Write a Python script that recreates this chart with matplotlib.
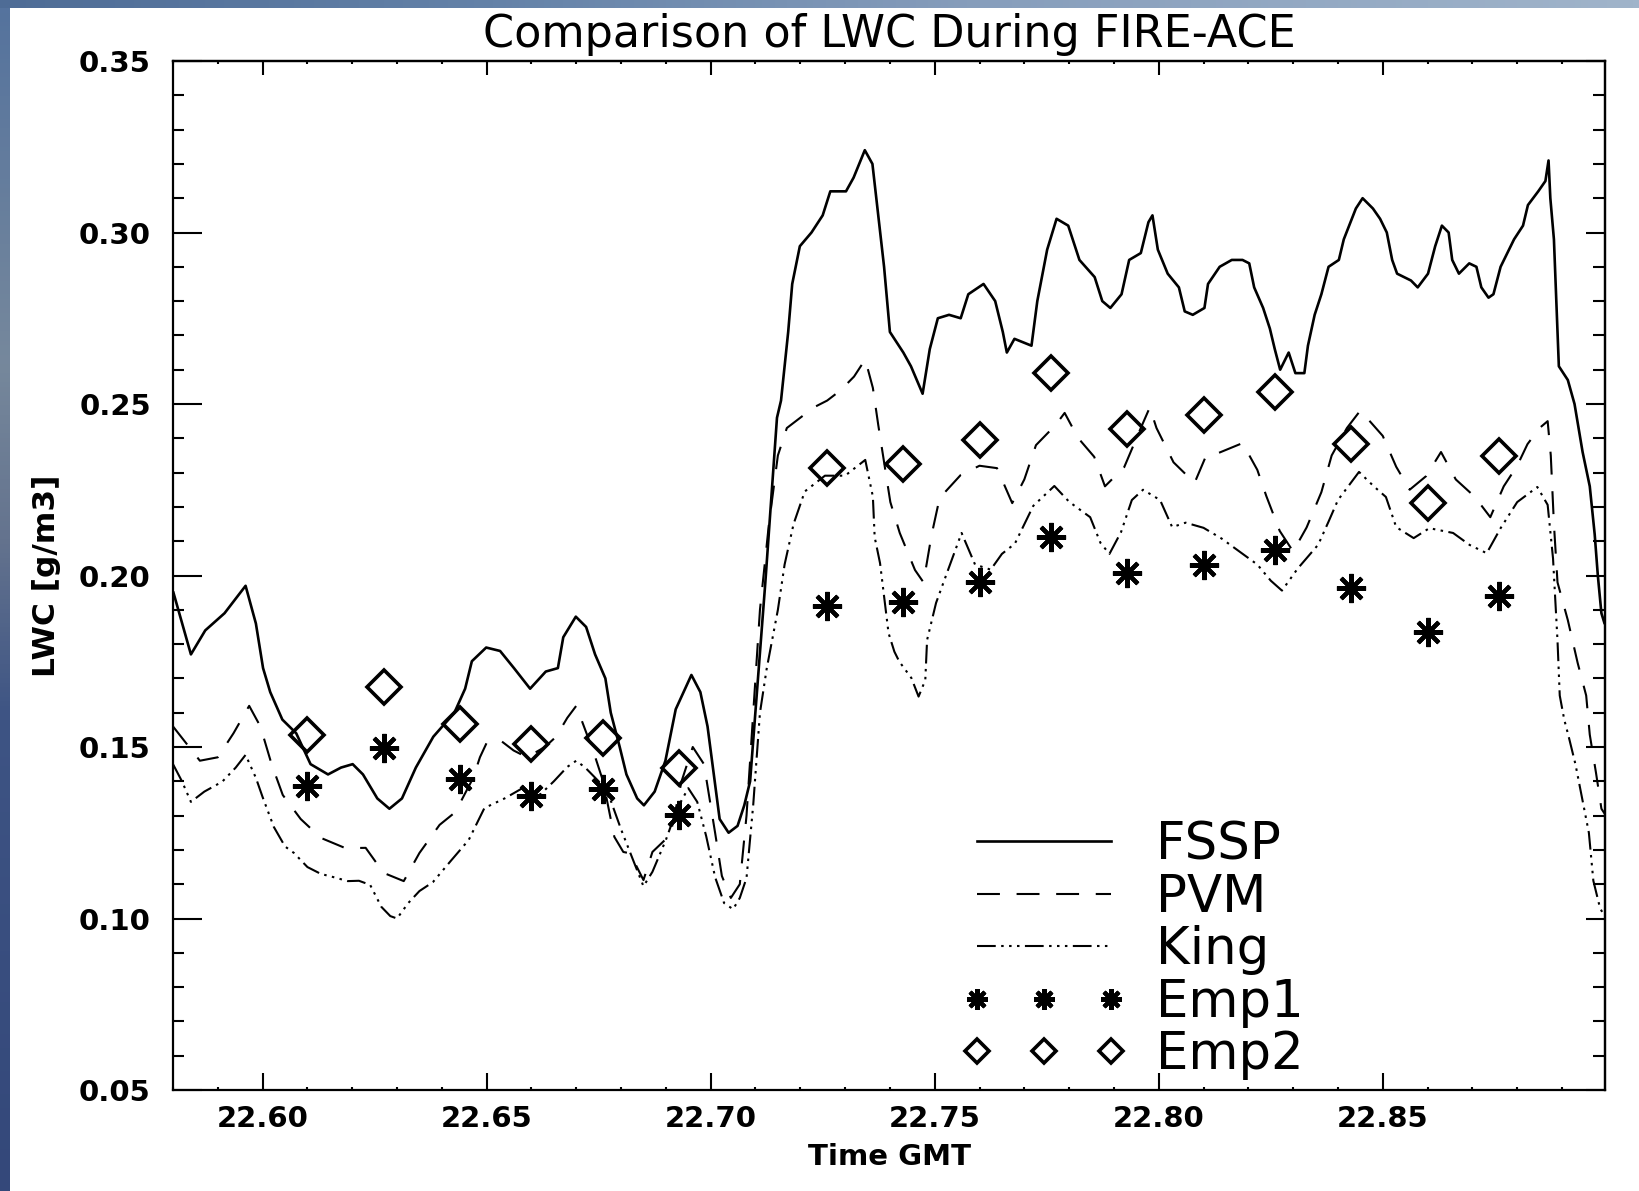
import numpy as np
import matplotlib
matplotlib.use("Agg")
import matplotlib.pyplot as plt
from matplotlib.ticker import MultipleLocator

# ---------------- data ----------------
fssp_t = [22.5801, 22.5840, 22.5872, 22.5915, 22.5962, 22.5985, 22.6001, 22.6017, 22.6044, 22.6075,
          22.6107, 22.6146, 22.6175, 22.6201, 22.6224, 22.6256, 22.6283, 22.6311, 22.6342, 22.6381,
          22.6428, 22.6452, 22.6467, 22.6499, 22.6530, 22.6561, 22.6597, 22.6632, 22.6659, 22.6671,
          22.6699, 22.6722, 22.6742, 22.6765, 22.6777, 22.6797, 22.6812, 22.6836, 22.6851, 22.6875,
          22.6899, 22.6922, 22.6957, 22.6977, 22.6993, 22.7008, 22.7020, 22.7040, 22.7060, 22.7075,
          22.7088, 22.7105, 22.7122, 22.7135, 22.7148, 22.7157, 22.7173, 22.7182, 22.7199, 22.7225,
          22.7250, 22.7267, 22.7302, 22.7319, 22.7344, 22.7361, 22.7374, 22.7387, 22.7400, 22.7430,
          22.7447, 22.7473, 22.7489, 22.7507, 22.7532, 22.7558, 22.7575, 22.7609, 22.7635, 22.7652,
          22.7661, 22.7678, 22.7716, 22.7729, 22.7751, 22.7772, 22.7798, 22.7823, 22.7857, 22.7874,
          22.7892, 22.7917, 22.7934, 22.7960, 22.7977, 22.7986, 22.7998, 22.8020, 22.8045, 22.8058,
          22.8076, 22.8102, 22.8110, 22.8136, 22.8163, 22.8187, 22.8202, 22.8213, 22.8233, 22.8248,
          22.8259, 22.8271, 22.8290, 22.8305, 22.8325, 22.8333, 22.8348, 22.8363, 22.8379, 22.8402,
          22.8413, 22.8425, 22.8440, 22.8455, 22.8478, 22.8494, 22.8509, 22.8521, 22.8532, 22.8563,
          22.8578, 22.8601, 22.8617, 22.8632, 22.8647, 22.8655, 22.8670, 22.8693, 22.8709, 22.8720,
          22.8736, 22.8747, 22.8763, 22.8793, 22.8813, 22.8824, 22.8847, 22.8863, 22.8870, 22.8874,
          22.8882, 22.8893, 22.8913, 22.8928, 22.8946, 22.8962, 22.8973, 22.8980, 22.8988, 22.8995,
          22.8999]
fssp_v = [0.195, 0.177, 0.184, 0.189, 0.197, 0.186, 0.173, 0.166, 0.158, 0.154,
          0.145, 0.142, 0.144, 0.145, 0.142, 0.135, 0.132, 0.135, 0.144, 0.153,
          0.160, 0.167, 0.175, 0.179, 0.178, 0.173, 0.167, 0.172, 0.173, 0.182,
          0.188, 0.185, 0.177, 0.170, 0.160, 0.150, 0.142, 0.135, 0.133, 0.137,
          0.146, 0.161, 0.171, 0.166, 0.156, 0.141, 0.129, 0.125, 0.127, 0.133,
          0.140, 0.169, 0.198, 0.222, 0.246, 0.251, 0.271, 0.285, 0.296, 0.300,
          0.305, 0.312, 0.312, 0.316, 0.324, 0.320, 0.305, 0.290, 0.271, 0.265,
          0.261, 0.253, 0.266, 0.275, 0.276, 0.275, 0.282, 0.285, 0.280, 0.271,
          0.265, 0.269, 0.267, 0.280, 0.295, 0.304, 0.302, 0.292, 0.287, 0.280,
          0.278, 0.282, 0.292, 0.294, 0.303, 0.305, 0.295, 0.288, 0.284, 0.277,
          0.276, 0.278, 0.285, 0.290, 0.292, 0.292, 0.291, 0.284, 0.278, 0.272,
          0.266, 0.260, 0.265, 0.259, 0.259, 0.267, 0.276, 0.282, 0.290, 0.292,
          0.298, 0.302, 0.307, 0.310, 0.307, 0.304, 0.300, 0.292, 0.288, 0.286,
          0.284, 0.288, 0.296, 0.302, 0.300, 0.292, 0.288, 0.291, 0.290, 0.284,
          0.281, 0.282, 0.290, 0.298, 0.302, 0.308, 0.312, 0.315, 0.321, 0.310,
          0.298, 0.261, 0.257, 0.250, 0.236, 0.226, 0.212, 0.200, 0.189, 0.186,
          0.191]

pvm_t = [22.5800, 22.5830, 22.5860, 22.5900, 22.5935, 22.5970, 22.5995, 22.6020, 22.6045, 22.6085,
         22.6130, 22.6185, 22.6230, 22.6270, 22.6315, 22.6350, 22.6395, 22.6430, 22.6470, 22.6485,
         22.6500, 22.6530, 22.6560, 22.6590, 22.6630, 22.6655, 22.6680, 22.6700, 22.6720, 22.6740,
         22.6760, 22.6785, 22.6805, 22.6820, 22.6850, 22.6870, 22.6910, 22.6935, 22.6960, 22.6985,
         22.7010, 22.7025, 22.7045, 22.7065, 22.7080, 22.7095, 22.7110, 22.7130, 22.7150, 22.7170,
         22.7200, 22.7230, 22.7260, 22.7290, 22.7320, 22.7345, 22.7362, 22.7374, 22.7401, 22.7422,
         22.7456, 22.7475, 22.7493, 22.7511, 22.7558, 22.7600, 22.7639, 22.7673, 22.7700, 22.7726,
         22.7770, 22.7790, 22.7820, 22.7856, 22.7880, 22.7923, 22.7960, 22.7980, 22.7995, 22.8033,
         22.8080, 22.8106, 22.8133, 22.8187, 22.8220, 22.8240, 22.8270, 22.8300, 22.8330, 22.8363,
         22.8386, 22.8420, 22.8450, 22.8500, 22.8530, 22.8560, 22.8597, 22.8630, 22.8663, 22.8705,
         22.8740, 22.8770, 22.8800, 22.8823, 22.8850, 22.8868, 22.8875, 22.8882, 22.8890, 22.8913,
         22.8935, 22.8954, 22.8962, 22.8976, 22.8988, 22.8998]
pvm_v = [0.156, 0.151, 0.146, 0.147, 0.154, 0.162, 0.156, 0.145, 0.136, 0.129,
         0.1235, 0.1205, 0.1206, 0.1133, 0.1109, 0.1191, 0.1273, 0.131, 0.141, 0.147,
         0.1512, 0.152, 0.149, 0.147, 0.150, 0.153, 0.1585, 0.162, 0.155, 0.148,
         0.140, 0.1238, 0.1194, 0.119, 0.1112, 0.1194, 0.1244, 0.140, 0.150, 0.145,
         0.1249, 0.1124, 0.106, 0.110, 0.130, 0.160, 0.190, 0.215, 0.235, 0.243,
         0.246, 0.249, 0.251, 0.254, 0.258, 0.263, 0.2547, 0.2439, 0.2214, 0.2124,
         0.2016, 0.198, 0.2118, 0.2226, 0.2293, 0.232, 0.2313, 0.2211, 0.228, 0.238,
         0.2439, 0.2474, 0.2401, 0.2346, 0.226, 0.2316, 0.243, 0.249, 0.243, 0.233,
         0.227, 0.235, 0.2357, 0.2386, 0.2308, 0.2232, 0.213, 0.207, 0.214, 0.2243,
         0.235, 0.243, 0.2481, 0.2407, 0.2317, 0.225, 0.229, 0.236, 0.228, 0.223,
         0.217, 0.226, 0.232, 0.2383, 0.243, 0.245, 0.235, 0.215, 0.198, 0.187,
         0.1745, 0.165, 0.1536, 0.1424, 0.132, 0.130]

king_t = [22.5800, 22.5820, 22.5840, 22.5870, 22.5910, 22.5940, 22.5962, 22.5985, 22.6000, 22.6025,
          22.6050, 22.6070, 22.6100, 22.6130, 22.6160, 22.6190, 22.6215, 22.6240, 22.6265, 22.6285,
          22.6300, 22.6325, 22.6350, 22.6380, 22.6420, 22.6460, 22.6495, 22.6540, 22.6580, 22.6620,
          22.6650, 22.6680, 22.6700, 22.6720, 22.6750, 22.6775, 22.6800, 22.6830, 22.6850, 22.6870,
          22.6900, 22.6925, 22.6950, 22.6970, 22.6990, 22.7010, 22.7030, 22.7050, 22.7065, 22.7080,
          22.7095, 22.7110, 22.7125, 22.7150, 22.7165, 22.7185, 22.7210, 22.7255, 22.7300, 22.7345,
          22.7362, 22.7366, 22.7378, 22.7397, 22.7410, 22.7421, 22.7448, 22.7464, 22.7479, 22.7483,
          22.7503, 22.7530, 22.7560, 22.7590, 22.7625, 22.7650, 22.7679, 22.7720, 22.7767, 22.7800,
          22.7847, 22.7870, 22.7890, 22.7916, 22.7940, 22.7965, 22.8003, 22.8030, 22.8060, 22.8100,
          22.8140, 22.8180, 22.8220, 22.8250, 22.8275, 22.8310, 22.8356, 22.8380, 22.8400, 22.8447,
          22.8480, 22.8507, 22.8530, 22.8569, 22.8604, 22.8657, 22.8694, 22.8732, 22.8763, 22.8800,
          22.8845, 22.8868, 22.8880, 22.8890, 22.8895, 22.8905, 22.8915, 22.8930, 22.8945, 22.8960,
          22.8970, 22.8985, 22.8998]
king_v = [0.145, 0.140, 0.134, 0.137, 0.1399, 0.144, 0.1477, 0.141, 0.1354, 0.1267,
          0.121, 0.1191, 0.115, 0.113, 0.112, 0.1109, 0.111, 0.1098, 0.1034, 0.1007,
          0.100, 0.1045, 0.108, 0.1106, 0.1168, 0.1229, 0.1322, 0.135, 0.138, 0.1362,
          0.140, 0.1442, 0.146, 0.144, 0.140, 0.1351, 0.126, 0.116, 0.1094, 0.1136,
          0.1229, 0.132, 0.138, 0.134, 0.124, 0.112, 0.1045, 0.1027, 0.106, 0.1118,
          0.1332, 0.160, 0.1728, 0.190, 0.2032, 0.215, 0.2245, 0.2291, 0.2291, 0.2337,
          0.223, 0.2112, 0.2036, 0.1832, 0.1778, 0.1749, 0.1701, 0.1647, 0.1695, 0.1812,
          0.192, 0.2017, 0.2124, 0.2032, 0.2017, 0.2063, 0.2093, 0.2203, 0.2261, 0.2215,
          0.2170, 0.2095, 0.2063, 0.2127, 0.222, 0.225, 0.222, 0.2141, 0.2154, 0.2139,
          0.2108, 0.2070, 0.2032, 0.1985, 0.1956, 0.202, 0.209, 0.216, 0.222, 0.2302,
          0.226, 0.2229, 0.2141, 0.2109, 0.2138, 0.2124, 0.2089, 0.2065, 0.2138, 0.2214,
          0.2258, 0.2206, 0.205, 0.181, 0.165, 0.158, 0.153, 0.145, 0.135, 0.125,
          0.111, 0.103, 0.100]

emp_t = [22.610, 22.627, 22.644, 22.660, 22.676, 22.693, 22.726, 22.743,
         22.760, 22.776, 22.793, 22.810, 22.826, 22.843, 22.860, 22.876]
emp1_v = [0.1386, 0.1496, 0.1408, 0.1356, 0.1377, 0.1301, 0.1910, 0.1922,
          0.1980, 0.2111, 0.2008, 0.2032, 0.2075, 0.1965, 0.1834, 0.1941]
emp2_v = [0.1536, 0.1676, 0.1566, 0.1508, 0.1527, 0.1438, 0.2312, 0.2325,
          0.2395, 0.2590, 0.2428, 0.2468, 0.2535, 0.2382, 0.2212, 0.2349]

series_labels = ["FSSP", "PVM", "King", "Emp1", "Emp2"]
xtick_vals = [22.60, 22.65, 22.70, 22.75, 22.80, 22.85]
xtick_labels = ["22.60", "22.65", "22.70", "22.75", "22.80", "22.85"]
ytick_vals = [0.05, 0.10, 0.15, 0.20, 0.25, 0.30, 0.35]
ytick_labels = ["0.05", "0.10", "0.15", "0.20", "0.25", "0.30", "0.35"]
title_text = "Comparison of LWC During FIRE-ACE"
xlabel_text = "Time GMT"
ylabel_text = "LWC [g/m3]"

# ---------------- figure ----------------
W, H = 1639, 1191
fig = plt.figure(figsize=(W / 100, H / 100), dpi=100)
fig.patch.set_facecolor("white")


def gradient(stops, colors, n=256):
    pos = np.linspace(0, 1, n)
    cols = np.array(colors, dtype=float) / 255.0
    return np.stack([np.interp(pos, stops, cols[:, k]) for k in range(3)], axis=-1)


# decorative photo strips (top and left edges)
top_ax = fig.add_axes([0, 1 - 8 / H, 1, 8 / H])
top_ax.imshow(gradient([0, 0.3, 0.6, 1], [(78, 108, 150), (100, 130, 168), (135, 158, 188), (160, 180, 202)])[None, :, :],
              aspect="auto", extent=(0, 1, 0, 1))
top_ax.axis("off")
left_ax = fig.add_axes([0, 0, 10 / W, 1 - 8 / H])
left_ax.imshow(gradient([0, 0.3, 0.45, 0.6, 1],
                        [(85, 115, 158), (118, 136, 156), (100, 115, 142), (62, 84, 132), (52, 72, 122)])[:, None, :],
               aspect="auto", extent=(0, 1, 0, 1))
left_ax.axis("off")

ax = fig.add_axes([173 / W, 1 - 1090 / H, (1605 - 173) / W, (1090 - 61) / H])

lw = 1.5
ax.plot(fssp_t, fssp_v, color="black", lw=1.9, ls="-", label=series_labels[0])
ax.plot(pvm_t, pvm_v, color="black", lw=lw, ls=(0, (11.0, 8.0)), label=series_labels[1])
ax.plot(king_t, king_v, color="black", lw=lw,
        ls=(0, (9.0, 2.6, 1.2, 2.6, 1.2, 2.6, 1.2, 2.6)), label=series_labels[2])
ax.plot(emp_t, emp1_v, ls="none", marker=(8, 2, 0), ms=21, mew=3.0, color="black", label=series_labels[3])
ax.plot(emp_t, emp2_v, ls="none", marker="D", ms=17.5, mew=2.6, mfc="none", mec="black", label=series_labels[4])

ax.set_xlim(22.58, 22.8996)
ax.set_ylim(0.05, 0.35)
ax.set_xticks(xtick_vals)
ax.set_xticklabels(xtick_labels)
ax.set_yticks(ytick_vals)
ax.set_yticklabels(ytick_labels)
ax.xaxis.set_minor_locator(MultipleLocator(0.01))
ax.yaxis.set_minor_locator(MultipleLocator(0.01))
ax.tick_params(axis="x", which="major", direction="in", length=12.5, width=1.5, top=False, pad=11, labelsize=21)
ax.tick_params(axis="x", which="minor", direction="in", length=2.5, width=1.5, top=False)
ax.tick_params(axis="y", which="major", direction="in", length=21, width=1.5, right=False, pad=16, labelsize=21)
ax.tick_params(axis="y", which="minor", direction="in", length=8, width=1.5, right=False)
for lbl in ax.get_xticklabels() + ax.get_yticklabels():
    lbl.set_fontweight("bold")
for sp in ax.spines.values():
    sp.set_linewidth(1.6)

secx = ax.secondary_xaxis("top")
secx.set_xticks(xtick_vals)
secx.xaxis.set_minor_locator(MultipleLocator(0.01))
secx.tick_params(which="major", direction="in", length=10, width=1.5, labeltop=False)
secx.tick_params(which="minor", direction="in", length=2.5, width=1.5)
secx.spines["top"].set_linewidth(1.6)

secy = ax.secondary_yaxis("right")
secy.set_yticks(ytick_vals)
secy.yaxis.set_minor_locator(MultipleLocator(0.01))
secy.tick_params(which="major", direction="in", length=14, width=1.5, labelright=False)
secy.tick_params(which="minor", direction="in", length=9, width=1.5)
secy.spines["right"].set_linewidth(1.6)

ax.set_xlabel(xlabel_text, fontsize=21, fontweight="bold")
ax.xaxis.set_label_coords(0.5, (1090 - 1157) / (1090 - 61))
ax.xaxis.label.set_va("center")
ax.set_ylabel(ylabel_text, fontsize=22.5, fontweight="bold")
ax.yaxis.set_label_coords((47 - 173) / (1605 - 173), 0.5)
ax.yaxis.label.set_va("center")

fig.text((173 + 1605) / 2 / W, 1 - 34 / H, title_text, ha="center", va="center", fontsize=32)

leg_fs = 37
leg = ax.legend(loc="upper left", bbox_to_anchor=((962 - 173) / (1605 - 173), (1090 - 820) / (1090 - 61)),
                frameon=False, fontsize=leg_fs, handlelength=3.2, handletextpad=0.57, labelspacing=0.05,
                numpoints=3, markerscale=0.72, borderpad=0, borderaxespad=0)

fig.savefig("out.png", dpi=100, facecolor="white")
